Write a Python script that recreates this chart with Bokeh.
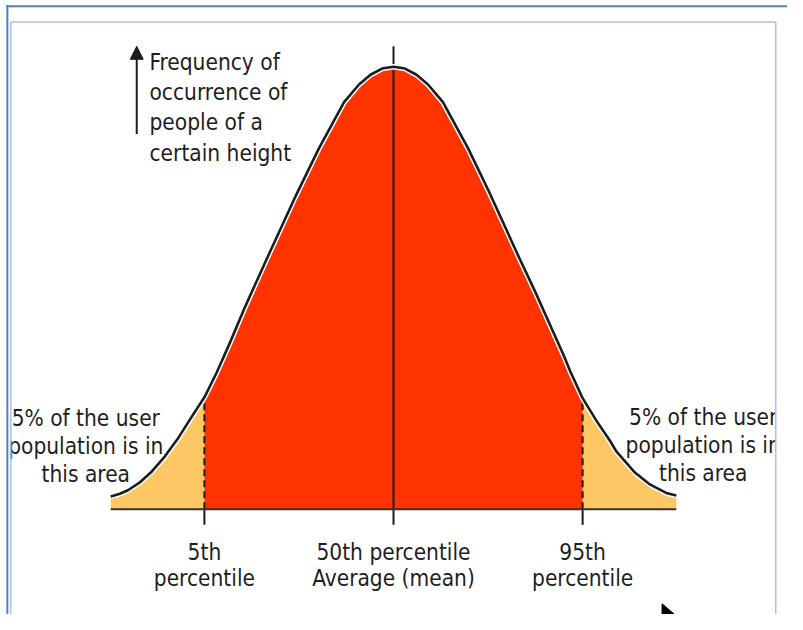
import numpy as np
from bokeh.plotting import figure
from bokeh.models import Arrow, NormalHead
from bokeh.core.properties import value
from bokeh.embed import file_html
from bokeh.resources import INLINE

# ---- data (height in standard deviations, frequency in % of peak)
height_sd = [-2.46, -2.38, -2.31, -2.20, -2.10, -1.99, -1.88, -1.77, -1.645, -1.54, -1.43,
             -1.29, -1.09, -0.86, -0.65, -0.43, -0.30, -0.20, -0.10, 0.0,
             0.10, 0.20, 0.30, 0.43, 0.65, 0.83, 1.09, 1.23, 1.48, 1.54, 1.645,
             1.77, 1.88, 1.94, 2.10, 2.23, 2.38, 2.46]
frequency = [2.9, 3.5, 4.3, 6.2, 8.6, 11.9, 15.8, 20.3, 25.3, 30.8, 37.2,
             45.8, 57.3, 70.3, 81.5, 92.0, 96.0, 98.2, 99.6, 100.0,
             99.6, 98.2, 96.0, 92.0, 81.5, 71.8, 57.0, 49.3, 34.8, 31.0, 25.1,
             19.8, 15.6, 13.0, 8.3, 5.6, 3.6, 3.1]
p5, p50, p95 = -1.645, 0.0, 1.645
freq_label = ["Frequency of", "occurrence of", "people of a", "certain height"]
tail_label = ["5% of the user", "population is in", "this area"]
pct_label_1 = ["5th", "50th percentile", "95th"]
pct_label_2 = ["percentile", "Average (mean)", "percentile"]

FONT = "DejaVu Sans Condensed"
RED = "#FF3300"
TAIL = "#FDC863"
INK = "#1c1c1c"

W, H = 787, 614
# reference-pixel <-> data mapping (reference image is 803 x 630)
X0, SX = 401.0, 117.3   # px of mean, px per sd
Y0, SY = 522.0, 4.54    # px of baseline, px per frequency unit
TY = -7                 # text baseline correction


def xd(px):
    return (px - X0) / SX


def yd(py):
    return (Y0 - py) / SY


def ty(py):
    return yd(py + TY)


p = figure(width=W, height=H, x_range=(xd(0), xd(803)), y_range=(yd(630), yd(0)),
           output_backend="svg", toolbar_location=None,
           x_axis_location=None, y_axis_location=None, min_border=0,
           outline_line_color=None, background_fill_color="white",
           border_fill_color="white")
p.grid.visible = False

x = np.array(height_sd)
f = np.array(frequency)
left = x <= p5
mid = (x >= p5) & (x <= p95)
right = x >= p95

p.varea(x=x[left], y1=0, y2=f[left], fill_color=TAIL)
p.varea(x=x[right], y1=0, y2=f[right], fill_color=TAIL)
p.varea(x=x[mid], y1=0, y2=f[mid], fill_color=RED)

f5 = float(f[x == p5][0])
f95 = float(f[x == p95][0])

# dashed percentile lines
p.segment(x0=[p5, p95], y0=[0, 0], x1=[p5, p95], y1=[f5, f95],
          line_color=INK, line_width=2, line_dash="7 4")
# tick marks under baseline
p.segment(x0=[p5, p95], y0=[0, 0], x1=[p5, p95], y1=[yd(538), yd(538)],
          line_color=INK, line_width=2)
# mean line
p.segment(x0=[p50], y0=[yd(538)], x1=[p50], y1=[yd(47)], line_color=INK, line_width=2)
# baseline
p.segment(x0=[x[0]], y0=[0], x1=[x[-1]], y1=[0], line_color="#3a3030", line_width=2.2)

# curve outline
p.line(x, f, line_color="white", line_width=5.5, line_join="round")
p.line(x, f, line_color=INK, line_width=2.6, line_join="round")

# arrow
p.add_layout(Arrow(end=NormalHead(size=13, fill_color=INK, line_color=INK),
                   x_start=xd(139), y_start=yd(137), x_end=xd(139), y_end=yd(47),
                   line_color=INK, line_width=2))

txt = dict(text_font=value(FONT), text_font_size="22.5px", text_color="#1e1e1e",
           text_baseline="alphabetic")
p.text(x=[xd(152)] * 4, y=[ty(70), ty(101), ty(132), ty(163)], text=freq_label,
       text_align="left", **txt)
p.text(x=[xd(87)] * 3, y=[ty(435), ty(464), ty(493)], text=tail_label,
       text_align="center", **txt)
p.text(x=[xd(717)] * 3, y=[ty(434), ty(463), ty(492)], text=tail_label,
       text_align="center", **txt)
p.text(x=[p5, p50, p95], y=[ty(573)] * 3, text=pct_label_1, text_align="center", **txt)
p.text(x=[p5, p50, p95], y=[ty(600)] * 3, text=pct_label_2, text_align="center", **txt)

# mask beyond inner frame on the right
p.quad(left=[xd(791)], right=[xd(810)], bottom=[yd(640)], top=[yd(-5)],
       fill_color="white", line_color=None)

# mouse pointer remnant at the bottom
p.patch(x=[xd(675), xd(675), xd(689)], y=[yd(619), yd(631), yd(631)],
        fill_color="black", line_color="black", line_width=1)

# inner light-blue frame
IN = "#A9C3E6"
p.segment(x0=[xd(10.5), xd(10.5), xd(791)], y0=[yd(22), yd(22), yd(22)],
          x1=[xd(791), xd(10.5), xd(791)], y1=[yd(22), yd(640), yd(640)],
          line_color=IN, line_width=1.5)
# outer blue frame
OUT = "#4F81BD"
p.segment(x0=[xd(6), xd(7)], y0=[yd(6), yd(5)], x1=[xd(810), xd(7)], y1=[yd(6), yd(640)],
          line_color=OUT, line_width=2)

open("out.html", "w").write(file_html(p, INLINE))
